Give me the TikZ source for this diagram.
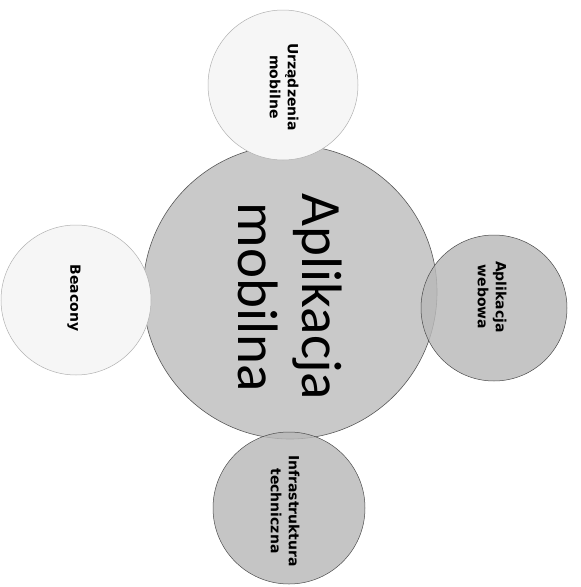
\documentclass[tikz,border=0pt]{standalone}
\usepackage{fontspec}
\setmainfont{Carlito}
\newfontfamily\satfont{DejaVu Sans}
\begin{document}
\begin{tikzpicture}[x=1pt,y=-1pt,
  center/.style={circle,draw=gray!70!black,line width=0.6pt,fill=gray!42},
  light/.style={circle,draw=gray!60,line width=0.5pt,fill=gray!7},
  dark/.style={circle,draw=gray!60!black,line width=0.5pt,fill=gray!55,fill opacity=0.82,text opacity=1},
  sattext/.style={rotate=-90,font=\satfont\bfseries\fontsize{14}{18}\selectfont,align=center,text=black},
  maintext/.style={rotate=-90,font=\fontsize{57}{64}\selectfont,align=center,text=black}]
\useasboundingbox (0,0) rectangle (581,587);
\fill[white] (0,0) rectangle (581,587);
\node[center,minimum size=294pt,inner sep=0pt] (c) at (290,292) {};
\node[light,minimum size=150pt,inner sep=0pt] (t) at (283,85) {};
\node[light,minimum size=150pt,inner sep=0pt] (l) at (76,300) {};
\node[dark,minimum size=146pt,inner sep=0pt] (r) at (494,308) {};
\node[dark,minimum size=152pt,inner sep=0pt] (b) at (289,508) {};
\node[maintext] (ct) at (290,297) {Aplikacja\\mobilna};
\node[sattext] (tt) at (284,87) {Urządzenia\\mobilne};
\node[sattext] (lt) at (74,298) {Beacony};
\node[sattext] (rt) at (492,297) {Aplikacja\\webowa};
\node[sattext] (bt) at (285,511) {Infrastruktura\\techniczna};
\end{tikzpicture}
\end{document}
